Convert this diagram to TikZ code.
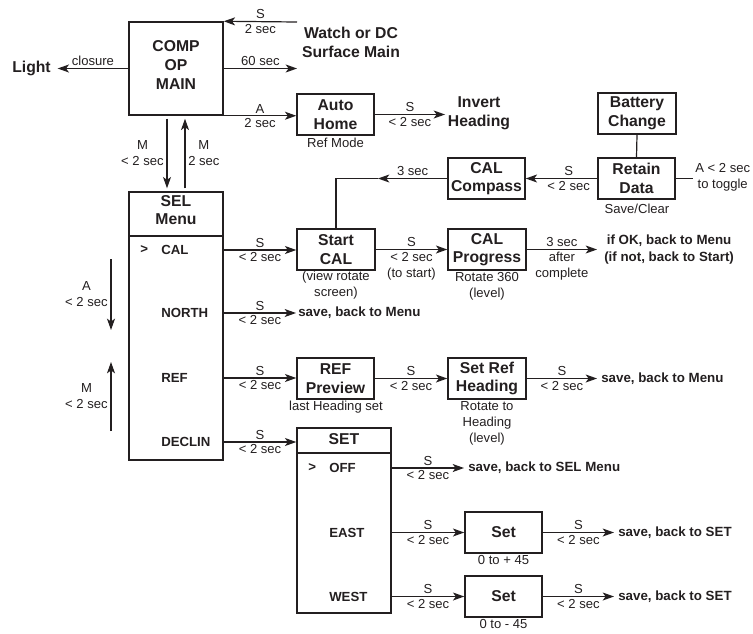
\documentclass[tikz,border=0pt]{standalone}
\usepackage{fontspec}
\setmainfont{Liberation Sans}
\usetikzlibrary{arrows.meta}
\definecolor{ink}{RGB}{35,31,32}
\newcommand\fbig{\fontsize{11.8pt}{14pt}\selectfont\bfseries}
\newcommand\fsml{\fontsize{9.8pt}{12pt}\selectfont}
\newcommand\fitem{\fontsize{9.9pt}{12pt}\selectfont\bfseries}
\newcommand\fnote{\fontsize{10pt}{12.75pt}\selectfont\bfseries}
\begin{document}
\begin{tikzpicture}[x=0.75pt,y=-0.75pt,
  sz/.style n args={2}{minimum width=#1*0.75pt, minimum height=#2*0.75pt},
  box/.style={draw=ink, line width=1.1pt, inner sep=0pt, align=center, font=\fbig, text=ink},
  big/.style={font=\fbig, text=ink, align=center, inner sep=0pt},
  lbl/.style={font=\fsml, text=ink, inner sep=1.5pt, align=center},
  item/.style={font=\fitem, text=ink, inner sep=0pt, anchor=west},
  note/.style={font=\fnote, text=ink, inner sep=0pt, anchor=west, align=center},
  arr/.style={draw=ink, line width=0.9pt, -{Stealth[length=8.5pt,width=6pt,inset=2.2pt]}},
  ln/.style={draw=ink, line width=0.9pt}]
\useasboundingbox (0,0) rectangle (753,633);

% ---- top area
\node[box, sz={94}{93}] (comp) at (176,68.5) {};
\node[big, font=\fontsize{11.8pt}{14.6pt}\selectfont\bfseries] (comptext) at (176,65) {COMP\\OP\\MAIN};
\node[big] (light) at (31.5,68.5) {Light};
\node[big] (watch) at (351,42.5) {Watch or DC\\Surface Main};
\coordinate (wS) at (297,22);
\node[box, sz={77}{41}] (auto) at (335.5,114.5) {Auto\\Home};
\node[lbl] (refmode) at (335.5,143) {Ref Mode};
\node[big, inner sep=2pt] (invert) at (479,113.5) {Invert\\Heading};

\draw[arr] (wS) -- (comp.north east)
  node[midway,above,lbl]{S} node[midway,below,lbl]{2 sec};
\draw[arr] (comp.east) -- (comp.east -| wS) node[midway,above,lbl]{60 sec};
\draw[arr] (comp.west) -- ([xshift=5pt]light.east) node[midway,above,lbl]{closure};
\draw[arr] (comp.south east) -- (auto.west |- comp.south east)
  node[midway,above,lbl]{A} node[midway,below,lbl]{2 sec};
\draw[arr] (auto.east) -- (auto.east -| invert.west)
  node[midway,above,lbl]{S} node[midway,below,lbl]{< 2 sec};

% ---- SEL menu
\node[draw=ink, line width=1.1pt, inner sep=0pt, sz={94}{268}] (sel) at (176,326) {};
\coordinate (selsep) at (176,236);
\draw[ln, line width=1.1pt] (sel.west |- selsep) -- (sel.east |- selsep);
\node[big] (selhead) at (176,210) {SEL\\Menu};
\node[item] (pcal) at (140,250) {>};
\node[item] (ical) at (161,250) {CAL};
\node[item] (inorth) at (161,313) {NORTH};
\node[item] (iref) at (161,378) {REF};
\node[item] (idec) at (161,442) {DECLIN};

\draw[arr] ([xshift=-6.75pt,yshift=-2.25pt]comp.south) -- ([xshift=-6.75pt,yshift=2.25pt]sel.north)
  node[midway,left,lbl,inner sep=2pt]{M\\< 2 sec};
\draw[arr] ([xshift=6.75pt,yshift=2.25pt]sel.north) -- ([xshift=6.75pt,yshift=-2.25pt]comp.south)
  node[midway,right,lbl,inner sep=2pt]{M\\2 sec};

\coordinate (aTop) at (111,259);
\coordinate (aBot) at (111,330);
\coordinate (mBot) at (111,431);
\coordinate (mTop) at (111,362);
\draw[arr] (aTop) -- (aBot) node[midway,left,lbl,inner sep=2pt]{A\\< 2 sec};
\draw[arr] (mBot) -- (mTop) node[midway,left,lbl,inner sep=2pt]{M\\< 2 sec};

% ---- CAL row
\node[box, sz={78}{41}] (startcal) at (336,249.5) {Start\\CAL};
\node[lbl] (viewrot) at (336,285) {(view rotate\\screen)};
\node[box, sz={78}{41}] (calprog) at (487,249.5) {CAL\\Progress};
\node[lbl] (rot360) at (487,286.5) {Rotate 360\\(level)};
\node[note, inner sep=0pt] (okt) at (604,249.5) {if OK, back to Menu\\(if not, back to Start)};
\coordinate (okend) at (597,249.5);

\draw[arr] (sel.east |- ical) -- (startcal.west |- ical)
  node[midway,above,lbl]{S} node[midway,below,lbl]{< 2 sec};
\draw[arr] (startcal.east) -- (calprog.west)
  node[midway,above,lbl]{S} node[midway,below,lbl]{< 2 sec\\(to start)};
\draw[arr] (calprog.east) -- (okend)
  node[midway,above,lbl]{3 sec} node[midway,below,lbl]{after\\complete};

% ---- CAL compass / retain / battery
\node[box, sz={77}{41}] (calcomp) at (486.5,178.5) {CAL\\Compass};
\node[box, sz={77}{41}] (retain) at (636.5,178.5) {Retain\\Data};
\node[lbl] (saveclr) at (637,209) {Save/Clear};
\node[box, sz={78}{41}] (battery) at (637,113.5) {Battery\\Change};
\node[lbl, anchor=west, inner sep=1.5pt] (tog) at (693,177) {A < 2 sec\\to toggle};
\coordinate (cc3) at (378,178.5);

\draw[ln] (battery.south) -- (retain.north);
\draw[ln] (retain.east) -- (retain.east -| tog.west);
\draw[arr] (retain.west) -- (calcomp.east)
  node[pos=0.4,above,lbl]{S} node[pos=0.4,below,lbl]{< 2 sec};
\draw[arr] (calcomp.west) -- (cc3) node[midway,above,lbl]{3 sec};
\draw[ln] (cc3) -- (startcal.north |- cc3) -- (startcal.north);

% ---- NORTH row
\node[note, inner sep=1.5pt] (nsave) at (296,313) {save, back to Menu};
\draw[arr] (sel.east |- inorth) -- (nsave.west)
  node[midway,above,lbl]{S} node[midway,below,lbl]{< 2 sec};

% ---- REF row
\node[box, sz={77}{41}] (refprev) at (335.5,378.5) {REF\\Preview};
\node[lbl] (lastset) at (336,407) {last Heading set};
\node[box, sz={78}{41}] (setref) at (487,378.5) {Set Ref\\Heading};
\node[lbl] (rotto) at (487,423) {Rotate to\\Heading\\(level)};
\node[note, inner sep=3pt] (rsave) at (597,378.5) {save, back to Menu};

\draw[arr] (sel.east |- iref) -- (refprev.west |- iref)
  node[midway,above,lbl]{S} node[midway,below,lbl]{< 2 sec};
\draw[arr] (refprev.east) -- (setref.west)
  node[midway,above,lbl]{S} node[midway,below,lbl]{< 2 sec};
\draw[arr] (setref.east) -- (rsave.west)
  node[midway,above,lbl]{S} node[midway,below,lbl]{< 2 sec};

% ---- SET (declination)
\node[draw=ink, line width=1.1pt, inner sep=0pt, sz={94}{185}] (setbox) at (344,520.5) {};
\coordinate (setsep) at (344,453);
\draw[ln, line width=1.1pt] (setbox.west |- setsep) -- (setbox.east |- setsep);
\node[big] (sethead) at (344,439) {SET};
\node[item] (poff) at (308,468) {>};
\node[item] (ioff) at (329,468) {OFF};
\node[item] (ieast) at (329,533) {EAST};
\node[item] (iwest) at (329,597) {WEST};

\draw[arr] (sel.east |- idec) -- (setbox.west |- idec)
  node[midway,above,lbl]{S} node[midway,below,lbl]{< 2 sec};

\node[note, inner sep=3pt] (osave) at (464,468) {save, back to SEL Menu};
\draw[arr] (setbox.east |- ioff) -- (osave.west)
  node[midway,above,lbl]{S} node[midway,below,lbl]{< 2 sec};

\node[box, sz={77}{41}] (seteast) at (503.5,532.5) {Set};
\node[lbl] (p45) at (503.5,560) {0 to + 45};
\node[note, inner sep=3pt] (esave) at (614,532.5) {save, back to SET};
\draw[arr] (setbox.east |- seteast) -- (seteast.west)
  node[midway,above,lbl]{S} node[midway,below,lbl]{< 2 sec};
\draw[arr] (seteast.east) -- (esave.west)
  node[midway,above,lbl]{S} node[midway,below,lbl]{< 2 sec};

\node[box, sz={77}{41}] (setwest) at (503.5,596.5) {Set};
\node[lbl] (m45) at (503.5,624) {0 to - 45};
\node[note, inner sep=3pt] (wsave) at (614,596.5) {save, back to SET};
\draw[arr] (setbox.east |- setwest) -- (setwest.west)
  node[midway,above,lbl]{S} node[midway,below,lbl]{< 2 sec};
\draw[arr] (setwest.east) -- (wsave.west)
  node[midway,above,lbl]{S} node[midway,below,lbl]{< 2 sec};
\end{tikzpicture}
\end{document}
